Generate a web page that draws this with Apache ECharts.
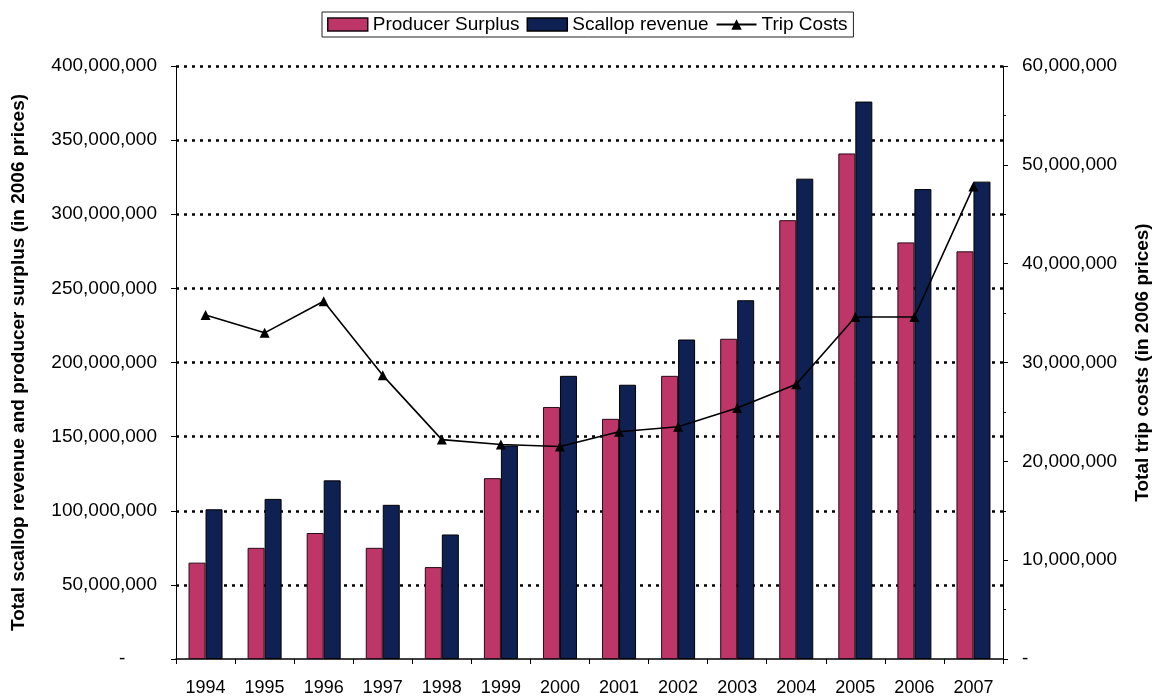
<!DOCTYPE html>
<html>
<head>
<meta charset="utf-8">
<script src="https://cdn.jsdelivr.net/npm/echarts@6/dist/echarts.min.js"></script>
<style>
  html, body { margin: 0; padding: 0; background: #ffffff; }
  #chart { width: 1159px; height: 700px; }
</style>
</head>
<body>
<div id="chart"></div>
<script>
// Years on the category axis
const years = ['1994', '1995', '1996', '1997', '1998', '1999', '2000',
               '2001', '2002', '2003', '2004', '2005', '2006', '2007'];

// Producer surplus, 2006 prices (left axis)
const producerSurplus = [65e6, 75e6, 85e6, 75e6, 62e6, 122e6, 170e6,
                         162e6, 191e6, 216e6, 296e6, 341e6, 281e6, 275e6];

// Scallop revenue, 2006 prices (left axis)
const scallopRevenue = [101e6, 108e6, 120.5e6, 104e6, 84e6, 144e6, 191e6,
                        185e6, 215.5e6, 242e6, 324e6, 376e6, 317e6, 322e6];

// Trip costs, 2006 prices (right axis)
const tripCosts = [34.8e6, 33.0e6, 36.2e6, 28.7e6, 22.2e6, 21.7e6, 21.5e6,
                   23.0e6, 23.5e6, 25.4e6, 27.8e6, 34.6e6, 34.6e6, 47.8e6];

const FONT = '"Liberation Sans", Arial, sans-serif';
// accounting-style labels: zero shows as a dash
const fmtLeft = v => v === 0 ? '-      ' : v.toLocaleString('en-US');
const fmtRight = v => v === 0 ? '-' : v.toLocaleString('en-US');

const chart = echarts.init(document.getElementById('chart'), null, { renderer: 'canvas' });

chart.setOption({
  animation: false,
  backgroundColor: '#ffffff',
  textStyle: { fontFamily: FONT, color: '#000' },
  legend: {
    top: 12,
    left: 322,
    itemGap: 7,
    itemWidth: 40,
    itemHeight: 13,
    padding: [3, 6, 3, 5],
    borderColor: '#222',
    borderWidth: 1,
    textStyle: { fontFamily: FONT, fontSize: 19, color: '#000' },
    data: [
      { name: 'Producer Surplus', icon: 'rect', itemStyle: { borderColor: '#1a0a12', borderWidth: 1.5 } },
      { name: 'Scallop revenue', icon: 'rect', itemStyle: { borderColor: '#000', borderWidth: 1.5 } },
      { name: 'Trip Costs' }
    ]
  },
  grid: { left: 176, right: 156, top: 66, bottom: 41, outerBoundsMode: 'none', containLabel: false },
  xAxis: {
    type: 'category',
    data: years,
    boundaryGap: true,
    axisLine: { lineStyle: { color: '#000', width: 1.5 } },
    axisTick: { show: true, length: 5, lineStyle: { color: '#000' } },
    axisLabel: { fontFamily: FONT, fontSize: 18, color: '#000', margin: 20 }
  },
  yAxis: [
    {
      type: 'value',
      min: 0, max: 400e6, interval: 50e6,
      name: 'Total scallop revenue and producer surplus (in 2006 prices)',
      nameLocation: 'middle',
      nameGap: 148,
      nameRotate: 90,
      nameTextStyle: { fontFamily: FONT, fontSize: 19, fontWeight: 'bold', color: '#000' },
      axisLine: { show: true, lineStyle: { color: '#000', width: 1 } },
      axisTick: { show: true, length: 5, lineStyle: { color: '#000' } },
      axisLabel: { fontFamily: FONT, fontSize: 19, color: '#000', margin: 19, formatter: fmtLeft },
      splitLine: {
        show: true,
        showMinLine: false,
        lineStyle: { color: '#000', width: 2.5, type: [3, 5] }
      }
    },
    {
      type: 'value',
      min: 0, max: 60e6, interval: 10e6,
      name: 'Total trip costs (in 2006 prices)',
      nameLocation: 'middle',
      nameGap: 130,
      nameRotate: 90,
      nameTextStyle: { fontFamily: FONT, fontSize: 19, fontWeight: 'bold', color: '#000' },
      axisLine: { show: true, lineStyle: { color: '#000', width: 1 } },
      axisTick: { show: true, length: 5, lineStyle: { color: '#000' } },
      minorTick: { show: true, splitNumber: 2, length: 3, lineStyle: { color: '#000' } },
      axisLabel: { fontFamily: FONT, fontSize: 19, color: '#000', margin: 19, formatter: fmtRight },
      splitLine: { show: false }
    }
  ],
  series: [
    {
      name: 'Producer Surplus',
      type: 'bar',
      yAxisIndex: 0,
      data: producerSurplus,
      barWidth: 17,
      barGap: '0%',
      itemStyle: { color: '#BE3568', borderColor: '#2a0a18', borderWidth: 1 }
    },
    {
      name: 'Scallop revenue',
      type: 'bar',
      yAxisIndex: 0,
      data: scallopRevenue,
      barWidth: 17,
      barGap: '0%',
      itemStyle: { color: '#0E2152', borderColor: '#000', borderWidth: 1 }
    },
    {
      name: 'Trip Costs',
      type: 'line',
      yAxisIndex: 1,
      data: tripCosts,
      symbol: 'triangle',
      symbolSize: 10,
      lineStyle: { color: '#000', width: 1.6 },
      itemStyle: { color: '#000' },
      z: 5
    }
  ]
});
</script>
</body>
</html>
